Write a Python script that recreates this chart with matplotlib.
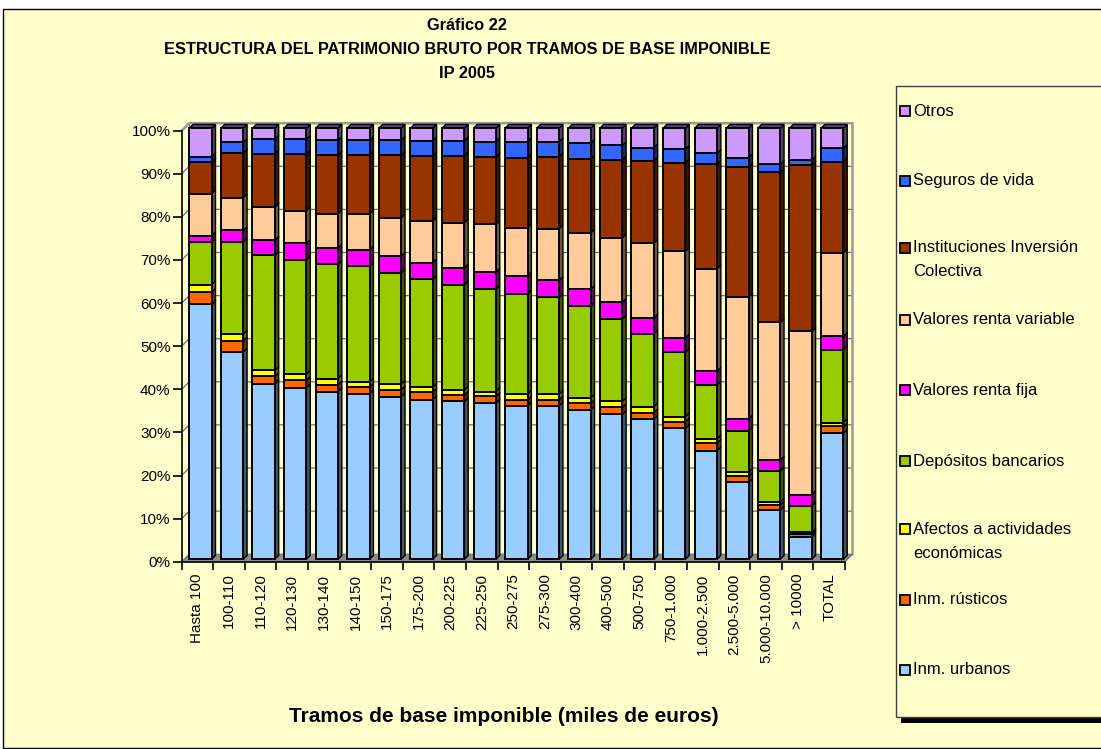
import matplotlib
matplotlib.use("Agg")
import matplotlib.pyplot as plt
import matplotlib.colors as mcolors
from matplotlib.patches import Polygon, Rectangle
import numpy as np

plt.rcParams['font.family'] = ['Liberation Sans', 'DejaVu Sans']

# Tramos de base imponible (miles de euros)
tramos = ["Hasta 100", "100-110", "110-120", "120-130", "130-140", "140-150",
          "150-175", "175-200", "200-225", "225-250", "250-275", "275-300",
          "300-400", "400-500", "500-750", "750-1.000", "1.000-2.500",
          "2.500-5.000", "5.000-10.000", "> 10000", "TOTAL"]

# percentage of gross wealth per component
inm_urbanos = [59.1, 48.1, 40.7, 39.8, 38.9, 38.4, 37.7, 37.0, 36.6, 36.2, 35.6,
               35.6, 34.7, 33.6, 32.5, 30.4, 25.2, 17.8, 11.4, 5.2, 29.2]
inm_rusticos = [2.9, 2.6, 1.7, 1.7, 1.6, 1.5, 1.6, 1.8, 1.5, 1.6, 1.4,
                1.4, 1.5, 1.6, 1.5, 1.5, 1.7, 1.5, 1.2, 0.6, 1.6]
afectos = [1.7, 1.5, 1.4, 1.4, 1.4, 1.2, 1.3, 1.1, 1.2, 1.1, 1.3,
           1.3, 1.2, 1.4, 1.4, 1.2, 1.0, 0.9, 0.7, 0.4, 0.9]
depositos = [9.9, 21.4, 26.7, 26.6, 26.5, 26.9, 25.8, 25.0, 24.4, 23.8, 23.3,
             22.5, 21.3, 19.1, 16.9, 15.0, 12.6, 9.6, 7.2, 6.2, 16.9]
renta_fija = [1.4, 2.7, 3.5, 3.8, 3.8, 3.8, 3.9, 3.9, 3.9, 3.9, 4.1,
              3.9, 3.9, 3.9, 3.7, 3.2, 3.1, 2.8, 2.5, 2.6, 3.1]
renta_variable = [9.8, 7.6, 7.7, 7.6, 8.0, 8.4, 8.9, 9.6, 10.5, 11.1, 11.2,
                  12.0, 13.1, 15.0, 17.3, 20.2, 23.8, 28.2, 32.0, 37.9, 19.4]
iic = [7.4, 10.3, 12.3, 13.1, 13.5, 13.6, 14.5, 15.2, 15.5, 15.7, 16.3,
       16.7, 17.2, 18.0, 19.1, 20.5, 24.2, 30.1, 34.8, 38.5, 21.1]
seguros = [1.2, 2.5, 3.4, 3.4, 3.5, 3.4, 3.5, 3.5, 3.5, 3.5, 3.7,
           3.5, 3.6, 3.4, 3.1, 3.1, 2.6, 2.3, 1.8, 1.2, 3.1]
otros = [6.6, 3.3, 2.6, 2.6, 2.8, 2.8, 2.8, 2.9, 2.9, 3.1, 3.1,
         3.1, 3.5, 4.0, 4.5, 4.9, 5.8, 6.8, 8.4, 7.4, 4.7]

series = [inm_urbanos, inm_rusticos, afectos, depositos, renta_fija,
          renta_variable, iic, seguros, otros]
names = ["Inm. urbanos", "Inm. rústicos", "Afectos a actividades\neconómicas",
         "Depósitos bancarios", "Valores renta fija", "Valores renta variable",
         "Instituciones Inversión\nColectiva", "Seguros de vida", "Otros"]
colors = ["#99CCFF", "#FF6600", "#FFFF00", "#99CC00", "#FF00FF",
          "#FFCC99", "#993300", "#3366FF", "#CC99FF"]

BG = "#FFFFCC"
W, H = 1101, 749
fig = plt.figure(figsize=(W / 100, H / 100), dpi=100)
fig.patch.set_facecolor("white")

# chart area frame
fig.add_artist(Rectangle((3 / W, 1 / H), 1110 / W, 739 / H, transform=fig.transFigure,
                         fc=BG, ec="black", lw=1, zorder=0))

ax_l, ax_r, ax_b, ax_t = 181.7, 845.0, 561.7, 130.7
ax = fig.add_axes([ax_l / W, (H - ax_b) / H, (ax_r - ax_l) / W, (ax_b - ax_t) / H])
n = len(tramos)
ax.set_xlim(-0.5, n - 0.5)
ax.set_ylim(0, 100)
ax.patch.set_visible(False)

# pixel -> data units, used for the fake 3D depth
ux = n / (ax_r - ax_l)
uy = 100 / (ax_b - ax_t)

# back wall, left wall and floor
wx, wy = 7.5 * ux, 7.5 * uy
xl, xr = -0.5, n - 0.5
ax.add_patch(Polygon([(xl, 0), (xr, 0), (xr + wx, wy), (xl + wx, wy)],
                     closed=True, fc="#8c8c8c", ec="#707070", lw=0.8,
                     clip_on=False, zorder=1))
for v in range(10, 101, 10):
    ax.plot([xl, xl + wx, xr + wx], [v, v + wy, v + wy], color="#707070",
            lw=0.9, clip_on=False, zorder=0.8)
ax.plot([xl, xl + wx, xr + wx, xr + wx], [100, 100 + wy, 100 + wy, wy],
        color="#999999", lw=1.8, clip_on=False, zorder=0.9)
ax.plot([xl + wx, xl + wx], [wy, 100 + wy], color="#7a7a7a", lw=0.8,
        clip_on=False, zorder=0.8)

# bars: front faces via ax.bar, plus side and top faces for the 3D look
fx, fy = 3.0 * ux, 2.5 * uy
dx, dy = 3.8 * ux, 3.8 * uy
bw = 0.71
xs = np.arange(n)
bottom = np.zeros(n)
for k, (vals, col) in enumerate(zip(series, colors)):
    vals = np.array(vals)
    dark = tuple(c * 0.42 for c in mcolors.to_rgb(col))
    ax.bar(xs + fx, vals, bottom=bottom + fy, width=bw, color=col,
           edgecolor="black", linewidth=1.4, zorder=3, clip_on=False)
    for i in range(n):
        x1 = xs[i] + fx + bw / 2
        y0 = bottom[i] + fy
        y1 = y0 + vals[i]
        ax.add_patch(Polygon([(x1, y0), (x1 + dx, y0 + dy), (x1 + dx, y1 + dy), (x1, y1)],
                             closed=True, fc=dark, ec="black", lw=1.0,
                             clip_on=False, zorder=2.9))
        if k == len(series) - 1:
            x0 = xs[i] + fx - bw / 2
            ax.add_patch(Polygon([(x0, y1), (x0 + dx, y1 + dy), (x1 + dx, y1 + dy), (x1, y1)],
                                 closed=True, fc=dark, ec="black", lw=1.0,
                                 clip_on=False, zorder=2.9))
    bottom = bottom + vals

# axes
for s in ["top", "right"]:
    ax.spines[s].set_visible(False)
ax.spines["left"].set_linewidth(1.2)
ax.spines["bottom"].set_linewidth(1.2)
ax.spines["left"].set_zorder(4)
ax.spines["bottom"].set_zorder(4)

ax.set_xticks(xs)
ax.set_xticklabels(tramos, rotation=90, fontsize=11)
ax.set_xticks(np.arange(-0.5, n), minor=True)
ax.tick_params(axis="x", which="major", length=0, pad=8.5)
ax.tick_params(axis="x", which="minor", length=6, width=1.2)
ax.set_yticks(range(0, 101, 10))
ax.set_yticklabels([f"{v}%" for v in range(0, 101, 10)], fontsize=11)
ax.tick_params(axis="y", length=6.5, width=1.2, pad=1.5)

# titles
title_lines = ["Gráfico 22",
               "ESTRUCTURA DEL PATRIMONIO BRUTO POR TRAMOS DE BASE IMPONIBLE",
               "IP 2005"]
for line, yy in zip(title_lines, [26, 49, 73]):
    fig.text(467 / W, 1 - yy / H, line, ha="center", va="center",
             fontsize=11.8, fontweight="bold")
fig.text(504 / W, 1 - 717 / H, "Tramos de base imponible (miles de euros)",
         ha="center", va="center", fontsize=15, fontweight="bold")

# legend box with shadow
fig.add_artist(Rectangle((901 / W, (H - 723) / H), 300 / W, (723 - 92) / H,
                         transform=fig.transFigure, fc="black", ec="none", zorder=1))
fig.add_artist(Rectangle((896 / W, (H - 717) / H), 300 / W, (717 - 86) / H,
                         transform=fig.transFigure, fc=BG, ec="#404040", lw=1, zorder=2))
entry_y = [670, 600, 529, 461, 390, 320, 248, 181, 111]
for name, col, yy in zip(names, colors, entry_y):
    fig.add_artist(Rectangle((900 / W, (H - yy - 5) / H), 10 / W, 10 / H,
                             transform=fig.transFigure, fc=col, ec="black", lw=1.3, zorder=3))
    for j, part in enumerate(name.split("\n")):
        fig.text(913 / W, 1 - (yy + 24 * j) / H, part, ha="left", va="center",
                 fontsize=12, zorder=4)

fig.savefig("out.png", dpi=100, facecolor=fig.get_facecolor())
